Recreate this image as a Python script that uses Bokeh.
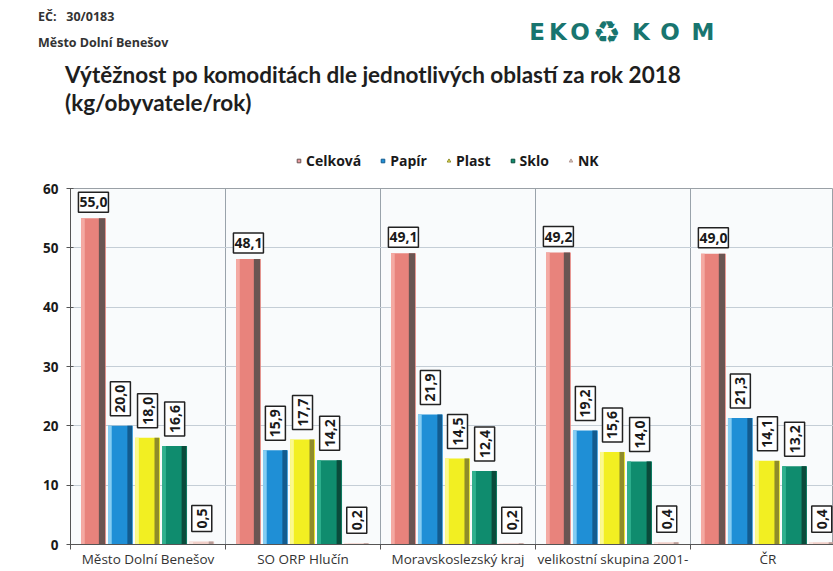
import numpy as np
from bokeh.plotting import figure
from bokeh.layouts import column
from bokeh.models import ColumnDataSource, FixedTicker, Legend, LegendItem, Range1d, Div
from bokeh.core.properties import value
from bokeh.embed import file_html
from bokeh.resources import INLINE

# ---------------- data ----------------
categories = ["Město Dolní Benešov", "SO ORP Hlučín", "Moravskoslezský kraj",
              "velikostní skupina 2001-", "ČR"]
series_names = ["Celková", "Papír", "Plast", "Sklo", "NK"]
celkova = [55.0, 48.1, 49.1, 49.2, 49.0]
papir = [20.0, 15.9, 21.9, 19.2, 21.3]
plast = [18.0, 17.7, 14.5, 15.6, 14.1]
sklo = [16.6, 14.2, 12.4, 14.0, 13.2]
nk = [0.5, 0.2, 0.2, 0.4, 0.4]
y_ticks = [0, 10, 20, 30, 40, 50, 60]

header_code = "EČ:&nbsp;&nbsp; 30/0183"
header_place = "Město Dolní Benešov"
title_line1 = "Výtěžnost po komoditách dle jednotlivých oblastí za rok 2018"
title_line2 = "(kg/obyvatele/rok)"
logo_letters = ["E", "K", "O", "♻", "K", "O", "M"]

values = [celkova, papir, plast, sklo, nk]

# ---------------- style ----------------
FONT = "Open Sans"
TEAL = "#18756f"
main_colors = ["#e8837c", "#1f8fd6", "#f2ef22", "#0f8c6e", "#f1cfc8"]
light_colors = ["#f4aaa3", "#86cdf2", "#fbf98e", "#2fb08e", "#f8e4df"]
dark_colors = ["#6a5552", "#135b8e", "#8f8c2a", "#0a4b3b", "#b89c97"]
legend_markers = ["square", "square", "triangle", "square", "triangle"]
legend_angles = [0, 0, np.pi / 2, 0, np.pi / 2]
legend_fill = ["#e79aa0", "#1f8fd6", "#ecea55", "#0f8c6e", "#c9c4b8"]
offsets = [0.148, 0.322, 0.497, 0.672, 0.847]
bar_w = 0.16
LEFT = 70          # left border of the plotting frame
H1 = 140           # header block height
H2 = 40            # legend strip height
TOP = 8            # chart border above the frame

# ---------------- header (HTML) ----------------
def span(x, yc, text, size, font=FONT, weight="bold", color="#222222", width=None):
    top = yc - size * 0.62
    w = f"width:{width}px;text-align:center;" if width else ""
    return (f'<span style="position:absolute;left:{x}px;top:{top:.1f}px;'
            f"font-family:'{font}';font-size:{size}px;font-weight:{weight};"
            f'color:{color};line-height:1.2;white-space:nowrap;{w}">{text}</span>')


parts = [
    span(38, 17, header_code, 12.5, color="#333333"),
    span(38, 43, header_place, 12.5, color="#333333"),
    span(65, 75, title_line1, 22.5, font="Lato", color="#1e1e1e"),
    span(65, 103, title_line2, 22.5, font="Lato", color="#1e1e1e"),
]
logo_centers = [537, 558, 580, 607, 641, 670, 703]
for ch, cx in zip(logo_letters, logo_centers):
    sz = 31 if ch == "♻" else 23
    parts.append(span(cx - 16, 33, ch, sz, font="DejaVu Sans", color=TEAL, width=32))
header_html = ('<div style="position:relative;width:833px;height:%dpx;background:white;">'
               % H1 + "".join(parts) + "</div>")
head = Div(text=header_html, width=833, height=H1, margin=0,
           styles={"margin": "0", "padding": "0"})

# ---------------- legend strip ----------------
leg = figure(width=833, height=H2, x_range=Range1d(0, 1), y_range=Range1d(0, 1),
             output_backend="svg", toolbar_location=None,
             x_axis_type=None, y_axis_type=None,
             min_border_left=LEFT, min_border_right=0,
             min_border_top=0, min_border_bottom=0)
leg.outline_line_color = None
leg.grid.visible = False
leg.background_fill_color = "white"
leg.border_fill_color = "white"
legend_items = []
for i, name in enumerate(series_names):
    r = leg.scatter(x=[np.nan], y=[np.nan], marker=legend_markers[i], size=8,
                    angle=legend_angles[i], fill_color=legend_fill[i],
                    line_color=dark_colors[i], line_width=1)
    legend_items.append(LegendItem(label=name, renderers=[r]))
legend = Legend(items=legend_items, orientation="horizontal", location=(294 - LEFT, 10),
                border_line_color=None, background_fill_alpha=0, padding=0, margin=0,
                spacing=17, glyph_width=9, glyph_height=9, label_standoff=3,
                label_text_font=FONT, label_text_font_style="bold",
                label_text_font_size="14px", label_text_color="#1a1a1a")
leg.add_layout(legend)

# ---------------- chart figure ----------------
p = figure(width=833, height=571 - H1 - H2,
           x_range=Range1d(0, 4.923), y_range=Range1d(0, 60),
           output_backend="svg", toolbar_location=None,
           min_border_left=LEFT, min_border_right=0,
           min_border_top=TOP, min_border_bottom=27)
p.background_fill_color = "#f9fbfc"
p.border_fill_color = "white"
p.outline_line_color = "#9aa0a6"

for i, (name, vals) in enumerate(zip(series_names, values)):
    xs = [g + offsets[i] for g in range(len(categories))]
    src = ColumnDataSource(dict(
        x=xs, top=vals,
        xd=[x + bar_w / 2 - (0.02 if i else 0.025) for x in xs],
        xl=[x - bar_w / 2 + 0.012 for x in xs],
        lab=[f"{v:.1f}".replace(".", ",") for v in vals],
    ))
    p.vbar(x="x", top="top", bottom=0, width=bar_w, source=src,
           fill_color=main_colors[i], line_color=None)
    p.vbar(x="xl", top="top", bottom=0, width=0.024, source=src,
           fill_color=light_colors[i], line_color=None)
    p.vbar(x="xd", top="top", bottom=0, width=0.04 if i == 0 else 0.03, source=src,
           fill_color=dark_colors[i], line_color=None)
    if i == 0:
        p.text(x="x", y="top", text="lab", source=src,
               text_align="center", text_baseline="bottom", y_offset=-6,
               text_font=value(FONT), text_font_style="bold", text_font_size="14px",
               text_color="#1a1a1a", background_fill_color="white",
               border_line_color="#222222", border_line_width=1.5, padding=(1, 5))
    else:
        p.text(x="x", y="top", text="lab", source=src, angle=np.pi / 2,
               text_align="left", text_baseline="middle", y_offset=-10,
               text_font=value(FONT), text_font_style="bold", text_font_size="14px",
               text_color="#1a1a1a", background_fill_color="white",
               border_line_color="#222222", border_line_width=1.5, padding=(3, 5))

centers = [g + 0.5 for g in range(len(categories))]
p.xaxis.ticker = FixedTicker(ticks=centers, minor_ticks=list(range(len(categories))))
p.xaxis.major_label_overrides = {c: lab for c, lab in zip(centers, categories)}
p.xaxis.major_tick_out = 0
p.xaxis.major_tick_in = 0
p.xaxis.minor_tick_out = 5
p.xaxis.minor_tick_in = 0
p.xaxis.major_label_standoff = 0
p.xaxis.major_label_text_font = FONT
p.xaxis.major_label_text_font_size = "13.5px"
p.xaxis.major_label_text_font_style = "normal"
p.xaxis.major_label_text_color = "#333333"
p.xaxis.axis_line_color = "#555555"
p.xaxis.minor_tick_line_color = "#555555"

p.yaxis.ticker = FixedTicker(ticks=y_ticks)
p.yaxis.major_tick_out = 4
p.yaxis.major_tick_in = 3
p.yaxis.minor_tick_line_color = None
p.yaxis.major_label_standoff = 8
p.yaxis.major_label_text_font = FONT
p.yaxis.major_label_text_font_size = "13.5px"
p.yaxis.major_label_text_font_style = "bold"
p.yaxis.major_label_text_color = "#1a1a1a"
p.yaxis.axis_line_color = "#555555"
p.yaxis.major_tick_line_color = "#555555"

p.ygrid.grid_line_color = "#c5ced6"
p.xgrid.ticker = FixedTicker(ticks=[1, 2, 3, 4])
p.xgrid.grid_line_color = "#9aa3ab"

layout = column(head, leg, p, spacing=0)
open("out.html", "w").write(file_html(layout, INLINE))
